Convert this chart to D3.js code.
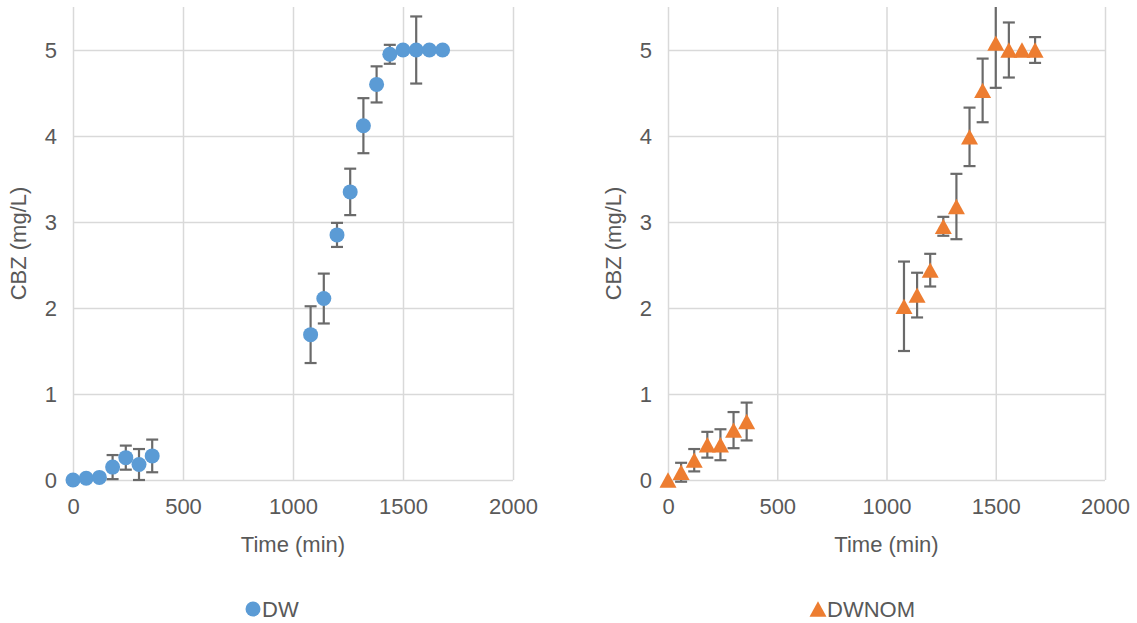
<!DOCTYPE html>
<html>
<head>
<meta charset="utf-8">
<script src="https://cdn.jsdelivr.net/npm/d3@7"></script>
<style>
  body { margin: 0; background: #fff; }
  svg text { font-family: "Liberation Sans", Arial, sans-serif; fill: #595959; }
  .grid line { stroke: #d9d9d9; stroke-width: 1.5; }
  .grid path { display: none; }
</style>
</head>
<body>
<svg id="chart"></svg>
<script>
// sampling times (min)
var timeMin = [0, 60, 120, 180, 240, 300, 360, 1080, 1140, 1200, 1260, 1320, 1380, 1440, 1500, 1560, 1620, 1680];

// CBZ (mg/L), DW series
var dwMean = [0, 0.02, 0.03, 0.15, 0.26, 0.18, 0.28, 1.69, 2.11, 2.85, 3.35, 4.12, 4.60, 4.95, 5.00, 5.00, 5.00, 5.00];
var dwErr  = [0, 0, 0, 0.14, 0.14, 0.18, 0.19, 0.33, 0.29, 0.14, 0.27, 0.32, 0.21, 0.11, 0.02, 0.39, 0, 0.02];

// CBZ (mg/L), DWNOM series
var nomMean = [0, 0.09, 0.23, 0.41, 0.41, 0.58, 0.68, 2.02, 2.15, 2.44, 2.95, 3.18, 3.99, 4.53, 5.08, 5.00, 5.00, 5.00];
var nomErr  = [0, 0.11, 0.13, 0.15, 0.18, 0.21, 0.22, 0.52, 0.26, 0.19, 0.11, 0.38, 0.34, 0.37, 0.52, 0.32, 0, 0.15];

var xTicks = [0, 500, 1000, 1500, 2000],
    yTicks = [0, 1, 2, 3, 4, 5];

var width = 1137, height = 623;

var svg = d3.select("#chart")
    .attr("width", width)
    .attr("height", height);

// excel-like triangle: centred on its bounding box, not its centroid
var excelTriangle = {
  draw: function(ctx, size) {
    var w = Math.sqrt(size), h = w * 0.9;
    ctx.moveTo(0, -h / 2);
    ctx.lineTo(w / 2, h / 2);
    ctx.lineTo(-w / 2, h / 2);
    ctx.closePath();
  }
};

var panels = [
  {id: "dw",  name: "DW",    mean: dwMean,  err: dwErr,  color: "#5b9bd5", shape: "circle",
   left: 73,  right: 513,  legendX: 253},
  {id: "nom", name: "DWNOM", mean: nomMean, err: nomErr, color: "#ed7d31", shape: "triangle",
   left: 668, right: 1105, legendX: 818}
];

var plotTop = 7, plotBottom = 480;

panels.forEach(function(p) {
  var x = d3.scaleLinear().domain([0, 2000]).range([p.left, p.right]),
      y = d3.scaleLinear().domain([0, 5.5]).range([plotBottom, plotTop]);
  var innerH = plotBottom - plotTop, innerW = p.right - p.left;

  var g = svg.append("g");

  g.append("clipPath").attr("id", "clip-" + p.id)
    .append("rect")
      .attr("x", p.left - 10).attr("y", plotTop)
      .attr("width", innerW + 20).attr("height", innerH + 20);

  // gridlines + tick labels
  var xg = g.append("g")
      .attr("class", "grid")
      .attr("transform", "translate(0," + plotBottom + ")")
      .call(d3.axisBottom(x).tickValues(xTicks).tickSize(-innerH).tickPadding(18).tickFormat(d3.format("d")));
  xg.selectAll("text").style("font-size", "22px");

  var yg = g.append("g")
      .attr("class", "grid")
      .attr("transform", "translate(" + p.left + ",0)")
      .call(d3.axisLeft(y).tickValues(yTicks).tickSize(-innerW).tickPadding(16).tickFormat(d3.format("d")));
  yg.selectAll("text").style("font-size", "22px");

  // axis titles
  g.append("text")
    .attr("x", (p.left + p.right) / 2)
    .attr("y", 552)
    .attr("text-anchor", "middle")
    .style("font-size", "22px")
    .text("Time (min)");

  g.append("text")
    .attr("transform", "translate(" + (p.left - 47) + "," + ((plotTop + plotBottom) / 2) + ") rotate(-90)")
    .attr("text-anchor", "middle")
    .style("font-size", "22px")
    .text("CBZ (mg/L)");

  var pts = timeMin.map(function(t, i) { return {t: t, v: p.mean[i], e: p.err[i]}; });

  // error bars
  var eb = g.append("g")
      .attr("clip-path", "url(#clip-" + p.id + ")")
      .attr("stroke", "#6a6a6a")
      .attr("stroke-width", 2.2)
      .selectAll("g")
      .data(pts.filter(function(d) { return d.e > 0; }))
      .enter().append("g");

  eb.append("line")
    .attr("x1", function(d) { return x(d.t); })
    .attr("x2", function(d) { return x(d.t); })
    .attr("y1", function(d) { return y(d.v + d.e); })
    .attr("y2", function(d) { return y(d.v - d.e); });
  [1, -1].forEach(function(s) {
    eb.append("line")
      .attr("x1", function(d) { return x(d.t) - 6; })
      .attr("x2", function(d) { return x(d.t) + 6; })
      .attr("y1", function(d) { return y(d.v + s * d.e); })
      .attr("y2", function(d) { return y(d.v + s * d.e); });
  });

  // markers
  var sym = p.shape === "circle"
      ? d3.symbol().type(d3.symbolCircle).size(Math.PI * 7.5 * 7.5)
      : d3.symbol().type(excelTriangle).size(17 * 17);

  g.append("g")
    .selectAll("path")
    .data(pts)
    .enter().append("path")
      .attr("transform", function(d) { return "translate(" + x(d.t) + "," + y(d.v) + ")"; })
      .attr("d", sym)
      .attr("fill", p.color);

  // legend
  g.append("path")
    .attr("transform", "translate(" + p.legendX + ",609)")
    .attr("d", sym)
    .attr("fill", p.color);
  g.append("text")
    .attr("x", p.legendX + 9)
    .attr("y", 617)
    .style("font-size", "22px")
    .text(p.name);
});
</script>
</body>
</html>
